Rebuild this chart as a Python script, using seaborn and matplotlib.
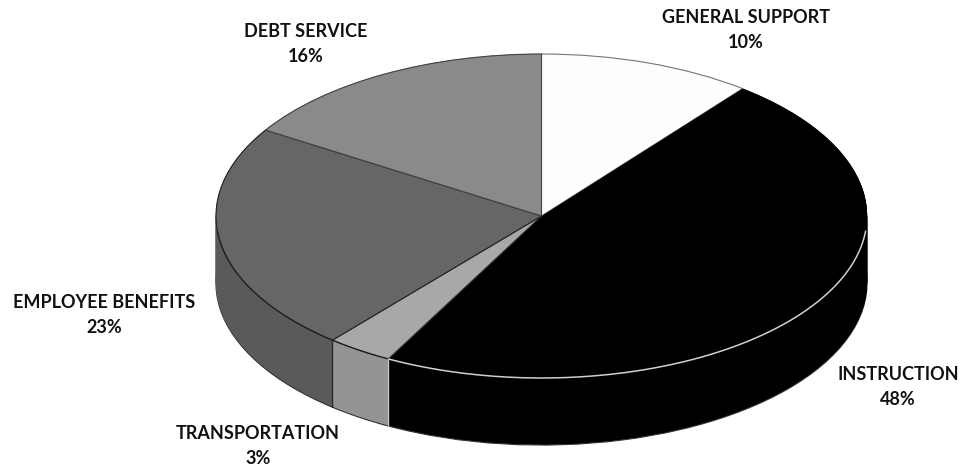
import matplotlib.pyplot as plt
import numpy as np
import seaborn as sns

categories = ["GENERAL SUPPORT", "INSTRUCTION", "TRANSPORTATION", "EMPLOYEE BENEFITS", "DEBT SERVICE"]
percent_labels = [10, 48, 3, 23, 16]
# slice sizes as measured on the drawing, the printed labels are rounded differently
slice_sizes = [10.6, 47.2, 3.3, 22.8, 16.1]

top_colors = ["#fdfdfd", "#000000", "#a8a8a8", "#666666", "#8a8a8a"]
side_colors = ["#e0e0e0", "#000000", "#949494", "#5a5a5a", "#6e6e6e"]
top_edges = ["#777777", "none", "#333333", "#222222", "#444444"]

# label centres in pixels
label_xy = [(746, 30), (898, 387), (258, 446), (104, 315), (306, 44)]

W, H = 974, 469
cx, cy, rx, ry = 541.5, 216, 325.5, 162
depth = 67 / ry

sns.set_theme(style="white")
plt.rcParams["font.family"] = ["Lato", "DejaVu Sans"]

fig, ax = plt.subplots(figsize=(W / 100, H / 100), dpi=100)
fig.subplots_adjust(0, 0, 1, 1)


def draw_pie(colors, offset, **wedgeprops):
    wedges, _ = ax.pie(slice_sizes, colors=colors, startangle=90, counterclock=False,
                       center=(0, -offset), wedgeprops=wedgeprops)
    return wedges


# the side wall is a stack of pies, bottom one first
bottom = draw_pie(side_colors, depth, linewidth=0.9, edgecolor="#333333")
for off in np.linspace(depth, 0, 68)[1:]:
    for w, c in zip(draw_pie(side_colors, off, linewidth=0.3), side_colors):
        w.set_edgecolor(c)

top = draw_pie(top_colors, 0, linewidth=0.8)
for w, e in zip(top, top_edges):
    w.set_edgecolor(e)

# light rim on the black slice
t = np.radians(np.linspace(top[1].theta1, top[1].theta2, 200))
keep = np.sin(t) < -0.08
ax.plot(np.cos(t[keep]), np.sin(t[keep]), color="#d0d0d0", lw=1.1)

# dark rim over the employee benefits slice and the transportation slice
for w in top[2:4]:
    t = np.radians(np.linspace(w.theta1, w.theta2, 100))
    t = t[np.sin(t) < -0.08]
    ax.plot(np.cos(t), np.sin(t), color="#222222", lw=0.9)

# vertical seams on the side wall
trans = top[2]
for angle, col in [(trans.theta2, "#c4c4c4"), (trans.theta1, "#2a2a2a")]:
    a = np.radians(angle)
    ax.plot([np.cos(a), np.cos(a)], [np.sin(a), np.sin(a) - depth], color=col, lw=0.9)

ax.set_aspect("auto")
ax.set_xlim(-cx / rx, (W - cx) / rx)
ax.set_ylim(-(H - cy) / ry, cy / ry)
ax.axis("off")

for name, pct, (x, y) in zip(categories, percent_labels, label_xy):
    fig.text(x / W, 1 - y / H, f"{name}\n{pct}%", ha="center", va="center",
             fontsize=13, fontweight="bold", color="#111111", linespacing=1.55)

fig.savefig("out.png", dpi=100)
